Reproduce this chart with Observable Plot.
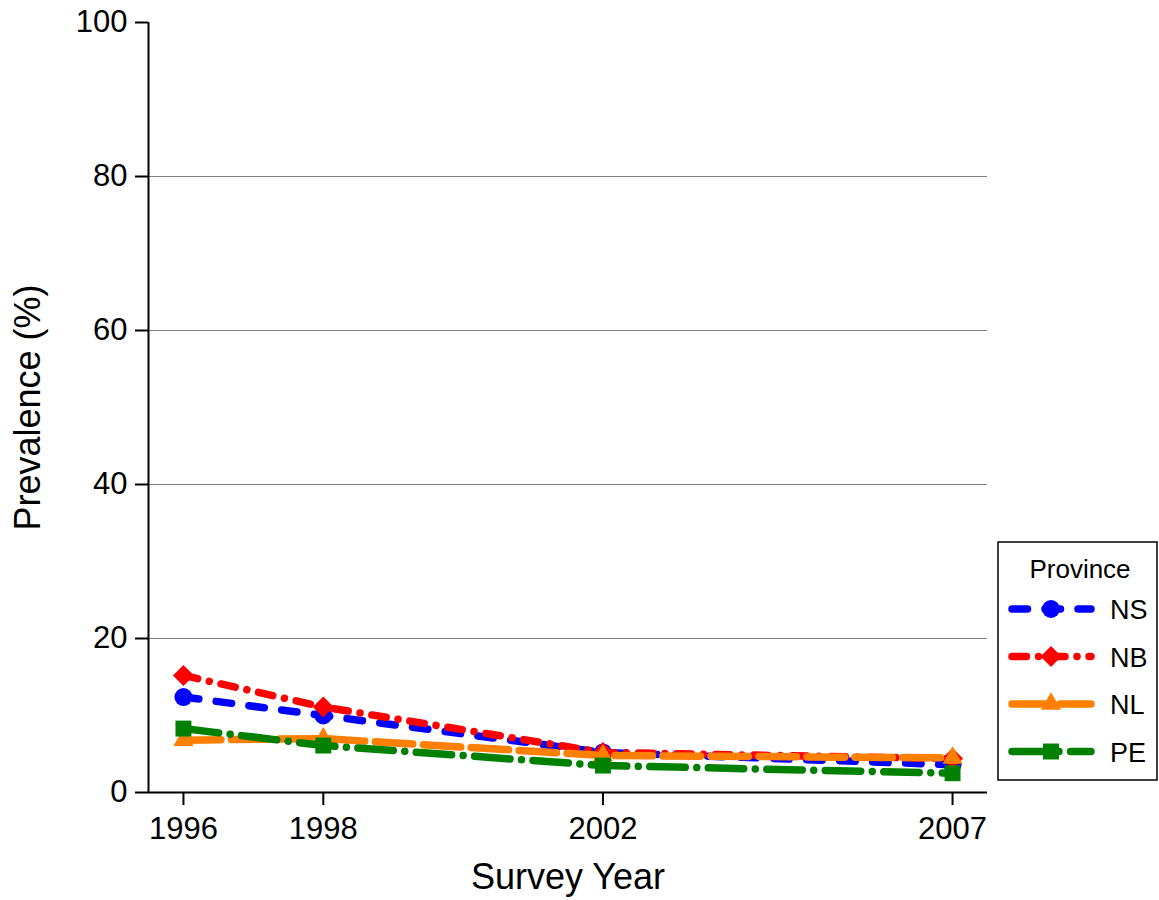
<!DOCTYPE html>
<html>
<head>
<meta charset="utf-8">
<script src="https://cdn.jsdelivr.net/npm/d3@7"></script>
<script src="https://cdn.jsdelivr.net/npm/@observablehq/plot@0.6"></script>
<style>
  html, body { margin: 0; padding: 0; background: #ffffff; }
  #wrap { position: relative; width: 1159px; height: 900px; font-family: "Liberation Sans", Arial, sans-serif; }
  #legend { position: absolute; left: 0; top: 0; pointer-events: none; }
</style>
</head>
<body>
<div id="wrap"></div>
<script>
// ---- data ----
const years = [1996, 1998, 2002, 2007];
const provinces = ["NS", "NB", "NL", "PE"];
const nsValues = [12.4, 10.0, 5.2, 3.6];
const nbValues = [15.2, 11.1, 5.2, 4.4];
const nlValues = [6.8, 7.0, 4.8, 4.5];
const peValues = [8.3, 6.1, 3.5, 2.5];
const yTicks = [0, 20, 40, 60, 80, 100];
const gridValues = [20, 40, 60, 80];
const xTicks = [1996, 1998, 2002, 2007];
const xDomain = [1995.5, 2007.5];
const yDomain = [0, 100];
const legendTitle = "Province";
const xLabel = "Survey Year";
const yLabel = "Prevalence (%)";

// ---- styles ----
const colors = ["#0000ff", "#ff0000", "#ff7f00", "#008000"];
const symbols = ["circle", "diamond2", "triangle", "square"];
const radii = [9, 9.5, 7.5, 9];
const dashes = ["15.5,17.5", "14.5,12,0.01,12", "37.5,10.5", "35.5,11.5,0.01,11.5"];
const lineWidth = 7.5;
const font = '"Liberation Sans", Arial, sans-serif';

const seriesValues = [nsValues, nbValues, nlValues, peValues];
const series = provinces.map((p, i) => years.map((yr, j) => ({province: p, year: yr, value: seriesValues[i][j]})));

const seriesMarks = [];
series.forEach((data, i) => {
  seriesMarks.push(Plot.line(data, {
    x: "year", y: "value", stroke: colors[i], strokeWidth: lineWidth,
    strokeDasharray: dashes[i], strokeLinecap: "round", strokeLinejoin: "round"
  }));
  seriesMarks.push(Plot.dot(data, {
    x: "year", y: "value", symbol: symbols[i], fill: colors[i], r: radii[i], stroke: "none"
  }));
});

const chart = Plot.plot({
  width: 1159,
  height: 900,
  marginLeft: 148,
  marginRight: 172,
  marginTop: 22,
  marginBottom: 108,
  style: {fontFamily: font, fontSize: "31px", color: "#000", background: "#fff", overflow: "visible"},
  x: {domain: xDomain},
  y: {domain: yDomain},
  marks: [
    Plot.ruleY(gridValues, {stroke: "#808080", strokeWidth: 1}),
    Plot.ruleY([yDomain[0]], {stroke: "#000", strokeWidth: 2}),
    Plot.ruleX([xDomain[0]], {stroke: "#000", strokeWidth: 2}),
    Plot.axisY({ticks: yTicks, tickSize: 13, tickPadding: 8, label: null, fontSize: 31, strokeWidth: 2, stroke: "#000"}),
    Plot.axisX({ticks: xTicks, tickSize: 13, tickPadding: 11, label: null, tickFormat: d3.format("d"), fontSize: 31, strokeWidth: 2, stroke: "#000"}),
    Plot.text([xLabel], {text: d => d, frameAnchor: "bottom", textAnchor: "middle", dy: 85, fontSize: 36, lineAnchor: "middle", fill: "#000"}),
    Plot.text([yLabel], {text: d => d, frameAnchor: "left", textAnchor: "middle", dx: -120, rotate: -90, fontSize: 36, lineAnchor: "middle", fill: "#000"}),
    ...seriesMarks
  ]
});

const wrap = document.getElementById("wrap");
wrap.appendChild(chart);

// ---- legend ----
const symbolMap = {circle: d3.symbolCircle, diamond2: d3.symbolDiamond2, triangle: d3.symbolTriangle, square: d3.symbolSquare};
const leg = d3.select(wrap).append("svg")
  .attr("id", "legend")
  .attr("width", 1159).attr("height", 900);
const box = {x: 998, y: 542, w: 159, h: 238};
leg.append("rect")
  .attr("x", box.x).attr("y", box.y).attr("width", box.w).attr("height", box.h)
  .attr("fill", "#fff").attr("stroke", "#000").attr("stroke-width", 1.5);
leg.append("text")
  .attr("x", 1080).attr("y", 578)
  .attr("text-anchor", "middle")
  .attr("font-family", font)
  .attr("font-size", 26)
  .text(legendTitle);
provinces.forEach((p, i) => {
  const cy = 609 + i * 47.5;
  leg.append("line")
    .attr("x1", 1012).attr("x2", 1091).attr("y1", cy).attr("y2", cy)
    .attr("stroke", colors[i]).attr("stroke-width", lineWidth)
    .attr("stroke-dasharray", dashes[i]).attr("stroke-linecap", "round");
  leg.append("path")
    .attr("transform", `translate(1051,${cy})`)
    .attr("d", d3.symbol(symbolMap[symbols[i]], radii[i] * radii[i] * Math.PI)())
    .attr("fill", colors[i]);
  leg.append("text")
    .attr("x", 1110).attr("y", cy + 10)
    .attr("font-family", font)
    .attr("font-size", 27)
    .text(p);
});
</script>
</body>
</html>
